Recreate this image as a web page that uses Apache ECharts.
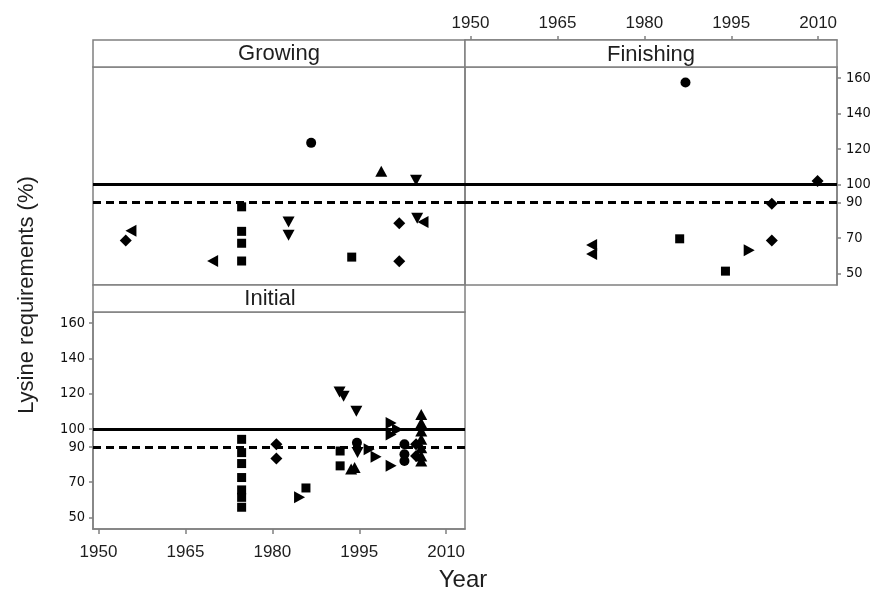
<!DOCTYPE html>
<html>
<head>
<meta charset="utf-8">
<script src="https://cdn.jsdelivr.net/npm/echarts@6/dist/echarts.min.js"></script>
<style>
html,body{margin:0;padding:0;background:#fff;}
#chart{width:881px;height:596px;}
</style>
</head>
<body>
<div id="chart"></div>
<script>
// ---- Data (year, lysine requirement %, marker) ----
const panelNames = ['Growing', 'Finishing', 'Initial'];
const xTicks = [1950, 1965, 1980, 1995, 2010];
const yTicks = [50, 70, 90, 100, 120, 140, 160];
const refSolid = 100;
const refDashed = 90;

const growing = [
  [1954.7, 68.6, 'diamond'],
  [1955.6, 74, 'left'],
  [1969.7, 57, 'left'],
  [1974.7, 87.5, 'square'],
  [1974.7, 73.7, 'square'],
  [1974.7, 67, 'square'],
  [1974.7, 57, 'square'],
  [1982.8, 79, 'down'],
  [1982.8, 71.5, 'down'],
  [1986.7, 123.5, 'circle'],
  [1993.7, 59.2, 'square'],
  [1998.8, 107.5, 'up'],
  [2004.8, 102.5, 'down'],
  [2001.9, 78.3, 'diamond'],
  [2001.9, 56.9, 'diamond'],
  [2005.0, 81, 'down'],
  [2006.0, 79, 'left']
];

const finishing = [
  [1987.1, 157.5, 'circle'],
  [2009.9, 102, 'diamond'],
  [2002.0, 89.3, 'diamond'],
  [2002.0, 68.6, 'diamond'],
  [1986.1, 69.5, 'square'],
  [1994.0, 51.3, 'square'],
  [1998.1, 63, 'right'],
  [1970.9, 66, 'left'],
  [1970.9, 61, 'left']
];

const initial = [
  [1974.7, 94.2, 'square'],
  [1974.7, 86.7, 'square'],
  [1974.7, 80.5, 'square'],
  [1974.7, 72.6, 'square'],
  [1974.7, 65.6, 'square'],
  [1974.7, 61.4, 'square'],
  [1974.7, 55.8, 'square'],
  [1980.7, 91.4, 'diamond'],
  [1980.7, 83.3, 'diamond'],
  [1984.7, 61.4, 'right'],
  [1985.8, 66.7, 'square'],
  [1991.6, 121, 'down'],
  [1992.3, 118.5, 'down'],
  [1994.5, 110.1, 'down'],
  [1991.7, 87.6, 'square'],
  [1991.7, 79.2, 'square'],
  [1994.6, 92.3, 'circle'],
  [1994.7, 86.7, 'down'],
  [1993.6, 77.4, 'up'],
  [1994.2, 78.3, 'up'],
  [1996.7, 88.6, 'right'],
  [1997.9, 84.3, 'right'],
  [2000.5, 103.5, 'right'],
  [2000.5, 97, 'right'],
  [2000.5, 79.2, 'right'],
  [2001.6, 99.8, 'right'],
  [2002.8, 91.4, 'circle'],
  [2002.8, 85.8, 'circle'],
  [2002.8, 82, 'circle'],
  [2004.8, 91.4, 'diamond'],
  [2004.8, 84.8, 'diamond'],
  [2005.7, 108.3, 'up'],
  [2005.7, 103.5, 'up'],
  [2005.7, 98.9, 'up'],
  [2005.7, 94.2, 'up'],
  [2005.7, 89.5, 'up'],
  [2005.7, 84.8, 'up'],
  [2005.7, 82, 'up']
];

// ---- Styling ----
const SYMBOLS = {
  circle: 'circle',
  square: 'rect',
  diamond: 'diamond',
  up: 'triangle',
  down: 'path://M0,0L10,0L5,10Z',
  left: 'path://M10,0L0,5L10,10Z',
  right: 'path://M0,0L10,5L0,10Z'
};
const SIZES = { circle: 10, square: 9, diamond: 12, up: [12, 11], down: [12, 11], left: [11, 12], right: [11, 12] };

const X_MIN = 1949.05, X_MAX = 2013.25;
const Y_MIN = 43.5, Y_MAX = 166.2;
const BORDER = '#808080';
const TXT = '#1e1e1e';

const chart = echarts.init(document.getElementById('chart'), null, { renderer: 'canvas' });

const grids = [
  { left: 93, top: 67, width: 372, height: 218 },
  { left: 465, top: 67, width: 372, height: 218 },
  { left: 93, top: 312, width: 372, height: 217 }
];

function toItems(arr) {
  return arr.map(function (p) {
    return { value: [p[0], p[1]], symbol: SYMBOLS[p[2]], symbolSize: SIZES[p[2]] };
  });
}

function refLines() {
  return {
    silent: true,
    symbol: 'none',
    label: { show: false },
    animation: false,
    data: [
      { yAxis: refSolid, lineStyle: { color: '#000', width: 3, type: 'solid' } },
      { yAxis: refDashed, lineStyle: { color: '#000', width: 3, type: [8, 5] } }
    ]
  };
}

const plain = function (v) { return String(v); };

const hiddenAxis = {
  axisLine: { show: false }, axisTick: { show: false }, axisLabel: { show: false }, splitLine: { show: false }
};

const xLabelStyle = { color: TXT, fontFamily: 'Liberation Sans', fontSize: 17, formatter: plain };
const yLabelStyle = { color: '#111', fontFamily: 'DejaVu Sans Condensed', fontSize: 14.5, formatter: plain };

const option = {
  animation: false,
  backgroundColor: '#fff',
  grid: grids.map(function (g) {
    return Object.assign({ show: true, borderColor: BORDER, borderWidth: 1.5, backgroundColor: 'transparent', containLabel: false, outerBoundsMode: 'none' }, g);
  }),
  xAxis: [
    Object.assign({ type: 'value', gridIndex: 0, min: X_MIN, max: X_MAX }, hiddenAxis),
    {
      type: 'value', gridIndex: 1, min: X_MIN, max: X_MAX, position: 'top', offset: 27,
      axisLine: { show: true, lineStyle: { color: BORDER, width: 1.5 } },
      axisTick: { show: true, length: 4, customValues: xTicks, lineStyle: { color: BORDER, width: 1.5 } },
      axisLabel: Object.assign({ show: true, margin: 8, customValues: xTicks }, xLabelStyle),
      splitLine: { show: false }
    },
    {
      type: 'value', gridIndex: 2, min: X_MIN, max: X_MAX, position: 'bottom',
      axisLine: { show: true, lineStyle: { color: BORDER, width: 1.5 } },
      axisTick: { show: true, length: 5, customValues: xTicks, lineStyle: { color: BORDER, width: 1.5 } },
      axisLabel: Object.assign({ show: true, margin: 15, customValues: xTicks }, xLabelStyle),
      splitLine: { show: false }
    }
  ],
  yAxis: [
    Object.assign({ type: 'value', gridIndex: 0, min: Y_MIN, max: Y_MAX }, hiddenAxis),
    {
      type: 'value', gridIndex: 1, min: Y_MIN, max: Y_MAX, position: 'right',
      axisLine: { show: true, lineStyle: { color: BORDER, width: 1.5 } },
      axisTick: { show: true, length: 4, customValues: yTicks, lineStyle: { color: BORDER, width: 1.5 } },
      axisLabel: Object.assign({ show: true, margin: 9, customValues: yTicks }, yLabelStyle),
      splitLine: { show: false }
    },
    {
      type: 'value', gridIndex: 2, min: Y_MIN, max: Y_MAX, position: 'left',
      axisLine: { show: true, lineStyle: { color: BORDER, width: 1.5 } },
      axisTick: { show: true, length: 4, customValues: yTicks, lineStyle: { color: BORDER, width: 1.5 } },
      axisLabel: Object.assign({ show: true, margin: 8, customValues: yTicks }, yLabelStyle),
      splitLine: { show: false }
    }
  ],
  series: [growing, finishing, initial].map(function (arr, i) {
    return {
      name: panelNames[i],
      type: 'scatter',
      xAxisIndex: i,
      yAxisIndex: i,
      itemStyle: { color: '#000', opacity: 1 },
      data: toItems(arr),
      markLine: refLines(),
      z: 3
    };
  }),
  graphic: [
    { type: 'rect', shape: { x: 93, y: 40, width: 372, height: 27 }, style: { fill: '#fff', stroke: BORDER, lineWidth: 1.5 }, z: 1 },
    { type: 'rect', shape: { x: 465, y: 40, width: 372, height: 27 }, style: { fill: '#fff', stroke: BORDER, lineWidth: 1.5 }, z: 1 },
    { type: 'rect', shape: { x: 93, y: 285, width: 372, height: 27 }, style: { fill: '#fff', stroke: BORDER, lineWidth: 1.5 }, z: 1 },
    { type: 'text', x: 279, y: 54, style: { text: panelNames[0], fill: TXT, font: '22px "Liberation Sans"', align: 'center', verticalAlign: 'middle' }, z: 2 },
    { type: 'text', x: 651, y: 55, style: { text: panelNames[1], fill: TXT, font: '22px "Liberation Sans"', align: 'center', verticalAlign: 'middle' }, z: 2 },
    { type: 'text', x: 270, y: 299, style: { text: panelNames[2], fill: TXT, font: '22px "Liberation Sans"', align: 'center', verticalAlign: 'middle' }, z: 2 },
    { type: 'text', x: 463, y: 580, style: { text: 'Year', fill: TXT, font: '24px "Liberation Sans"', align: 'center', verticalAlign: 'middle' }, z: 2 },
    { type: 'text', x: 27, y: 295, rotation: Math.PI / 2, style: { text: 'Lysine requirements (%)', fill: TXT, font: '22px "Liberation Sans"', align: 'center', verticalAlign: 'middle' }, z: 2 }
  ]
};

chart.setOption(option);
</script>
</body>
</html>
